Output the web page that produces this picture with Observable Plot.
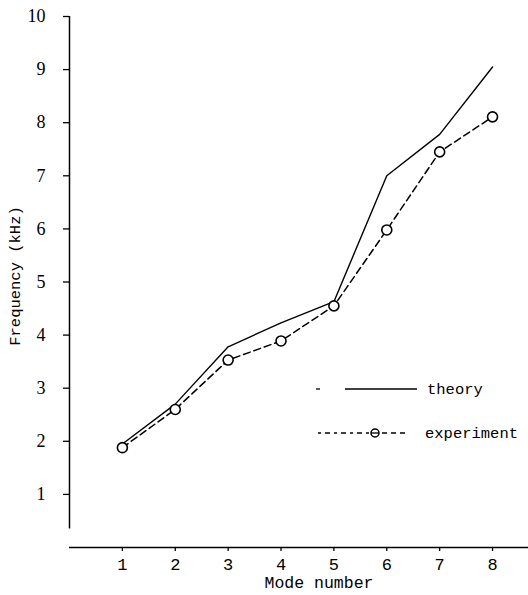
<!DOCTYPE html>
<html>
<head>
<meta charset="utf-8">
<script src="https://cdn.jsdelivr.net/npm/d3@7"></script>
<script src="https://cdn.jsdelivr.net/npm/@observablehq/plot@0.6"></script>
<style>
  html, body { margin: 0; padding: 0; background: #fff; }
  #chart svg { display: block; }
</style>
</head>
<body>
<div id="chart"></div>
<script>
const modes = [1, 2, 3, 4, 5, 6, 7, 8];
const theory = [1.95, 2.7, 3.78, 4.23, 4.63, 7.0, 7.78, 9.05];
const experiment = [1.88, 2.6, 3.53, 3.89, 4.55, 5.98, 7.45, 8.11];
const yTicks = [1, 2, 3, 4, 5, 6, 7, 8, 9, 10];
const xTicks = [1, 2, 3, 4, 5, 6, 7, 8];
const xLabel = "Mode number";
const yLabel = "Frequency (kHz)";
const legendLabels = ["theory", "experiment"];

const theoryData = modes.map((m, i) => ({mode: m, f: theory[i]}));
const expData = modes.map((m, i) => ({mode: m, f: experiment[i]}));

const mono = "'Liberation Mono', 'DejaVu Sans Mono', monospace";
const serif = "'Liberation Serif', 'DejaVu Serif', serif";

const plot = Plot.plot({
  width: 528,
  height: 595,
  marginLeft: 69,
  marginRight: 0,
  marginTop: 16,
  marginBottom: 48,
  x: {domain: [0, 8.68]},
  y: {domain: [0, 10]},
  style: {background: "#fff", color: "#000"},
  marks: [
    Plot.ruleX([0], {y1: 0.35, y2: 10, stroke: "#000", strokeWidth: 1.5}),
    Plot.ruleY([0], {x1: 0, x2: 8.68, stroke: "#000", strokeWidth: 1.6}),
    Plot.axisY({
      ticks: yTicks, tickSize: 6, tickPadding: 18, label: null,
      fontSize: 18, fontFamily: serif, strokeWidth: 1.3
    }),
    Plot.axisX({
      ticks: xTicks, tickSize: 4, tickPadding: 6, label: null,
      fontSize: 17, fontFamily: mono, strokeWidth: 1.3
    }),
    Plot.text([xLabel], {
      frameAnchor: "bottom", textAnchor: "middle", text: d => d, dx: 20, dy: 40,
      fontSize: 16.5, fontFamily: mono, fill: "#000"
    }),
    Plot.text([yLabel], {
      frameAnchor: "left", textAnchor: "middle", text: d => d, rotate: -90, dx: -54, dy: -6,
      fontSize: 15.5, fontFamily: mono, fill: "#000"
    }),
    Plot.line(theoryData, {x: "mode", y: "f", stroke: "#000", strokeWidth: 1.4}),
    Plot.line(expData, {x: "mode", y: "f", stroke: "#000", strokeWidth: 1.5, strokeDasharray: "7,4"}),
    Plot.dot(expData, {x: "mode", y: "f", r: 5, stroke: "#000", strokeWidth: 1.6, fill: "#fff"})
  ]
});

// Legend drawn inside the SVG
const svg = d3.select(plot);
const lg = svg.append("g").attr("stroke", "#000").attr("fill", "none");
lg.append("line").attr("x1", 316).attr("x2", 320).attr("y1", 389).attr("y2", 389).attr("stroke-width", 1.3);
lg.append("line").attr("x1", 345).attr("x2", 417).attr("y1", 389).attr("y2", 389).attr("stroke-width", 1.3);
lg.append("line").attr("x1", 318).attr("x2", 369).attr("y1", 433).attr("y2", 433)
  .attr("stroke-width", 1.3).attr("stroke-dasharray", "3,4,5,4");
lg.append("line").attr("x1", 382).attr("x2", 406).attr("y1", 433).attr("y2", 433)
  .attr("stroke-width", 1.3).attr("stroke-dasharray", "5,4");
lg.append("circle").attr("cx", 375).attr("cy", 433).attr("r", 4).attr("fill", "#fff").attr("stroke-width", 1.5);
lg.append("line").attr("x1", 371).attr("x2", 379).attr("y1", 433).attr("y2", 433).attr("stroke-width", 1.3);
const lt = svg.append("g").attr("font-family", mono).attr("font-size", 15.5)
  .attr("fill", "#000").attr("text-anchor", "start");
lt.append("text").attr("x", 427).attr("y", 389).attr("dy", "0.35em").text(legendLabels[0]);
lt.append("text").attr("x", 425).attr("y", 433).attr("dy", "0.35em").text(legendLabels[1]);

document.getElementById("chart").appendChild(plot);
</script>
</body>
</html>
